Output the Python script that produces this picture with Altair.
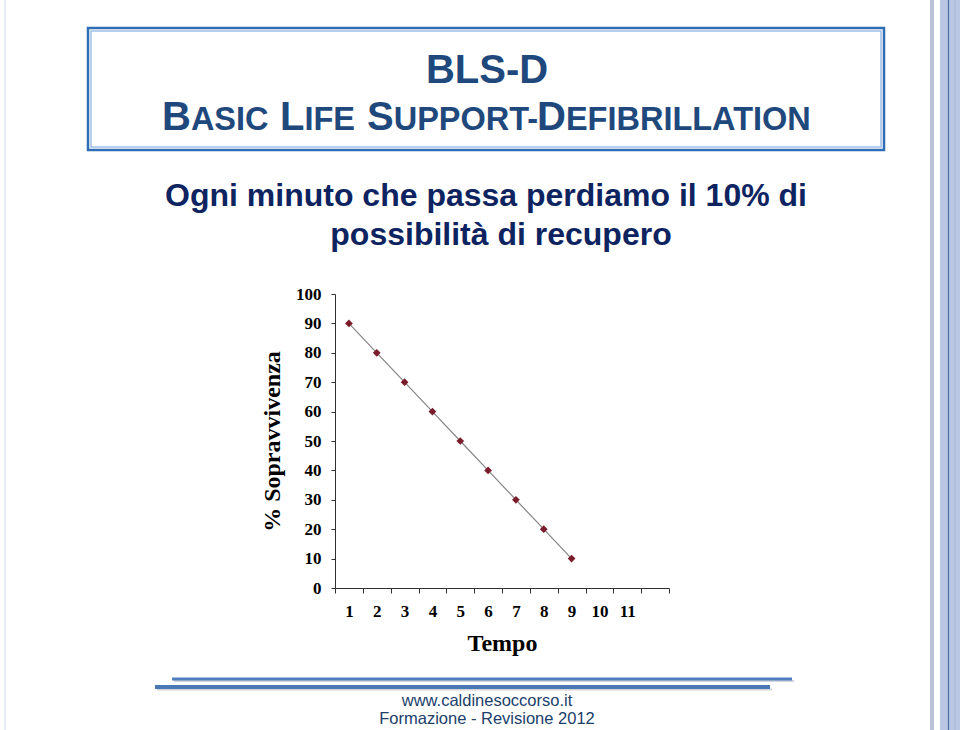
import altair as alt
import pandas as pd

# ---- chart values ----
minutes = ["1", "2", "3", "4", "5", "6", "7", "8", "9"]
survival = [90, 80, 70, 60, 50, 40, 30, 20, 10]
x_categories = ["1", "2", "3", "4", "5", "6", "7", "8", "9", "10", "11", ""]
y_ticks = [0, 10, 20, 30, 40, 50, 60, 70, 80, 90, 100]

title_main = "BLS-D"
title_words = [("B", "ASIC"), ("L", "IFE"), ("S", "UPPORT-"), ("D", "EFIBRILLATION")]
subtitle_lines = ["Ogni minuto che passa perdiamo il 10% di", "possibilità di recupero"]
footer_lines = ["www.caldinesoccorso.it", "Formazione - Revisione 2012"]

df = pd.DataFrame({"Tempo": minutes, "Sopravvivenza": survival})
one = pd.DataFrame({"k": [0]})

# ---- layout (page pixels) ----
X0, Y0 = 335, 294          # plot-area origin on the page
W, H = 334, 294            # plot-area size
FULL_W, FULL_H = 960, 730


def px(x):
    return x - X0


def py(y):
    return y - Y0


SANS = "Liberation Sans"
SERIF = "Liberation Serif"
TITLE_BLUE = "#1F497D"
SUB_BLUE = "#0E2461"

layers = []


def text(t, x, y, size, color, weight="bold", align="left", font=SANS, opacity=1.0):
    return alt.Chart(one).mark_text(
        text=t, font=font, fontSize=size, fontWeight=weight, color=color,
        align=align, baseline="alphabetic", opacity=opacity
    ).encode(x=alt.value(px(x)), y=alt.value(py(y)))


def rect(x1, x2, y1, y2, **kw):
    return alt.Chart(one).mark_rect(**kw).encode(
        x=alt.value(px(x1)), x2=alt.value(px(x2)),
        y=alt.value(py(y1)), y2=alt.value(py(y2)))


def hrule(x1, x2, y, color, width, opacity=1.0):
    return alt.Chart(one).mark_rule(color=color, strokeWidth=width, opacity=opacity).encode(
        x=alt.value(px(x1)), x2=alt.value(px(x2)), y=alt.value(py(y)))


def vrule(x, y1, y2, color, width, opacity=1.0):
    return alt.Chart(one).mark_rule(color=color, strokeWidth=width, opacity=opacity).encode(
        x=alt.value(px(x)), y=alt.value(py(y1)), y2=alt.value(py(y2)))


# right-hand decorative stripes
layers.append(rect(930, 934, 0, FULL_H, color="#b9c2d7"))
layers.append(rect(940, 960, 0, FULL_H, color="#bac7e2"))
layers.append(vrule(948.5, 0, FULL_H, "#4e6ea3", 1.2))
layers.append(vrule(955, 0, FULL_H, "#a7b7d8", 1))
layers.append(vrule(5, 0, FULL_H, "#dfe5ef", 1.5))

# title box
layers.append(rect(88, 884, 28, 150, fillOpacity=0, stroke="#2f6eb4", strokeWidth=2.5))
layers.append(rect(91, 881, 31, 147, fillOpacity=0, stroke="#9dc0e6", strokeWidth=1.5))

# title line 1
layers.append(text(title_main, 487, 83, 40, TITLE_BLUE, align="center"))

# title line 2 in small caps
BIG, SMALL = 40, 32.5
big_w = {"B": 0.722, "L": 0.611, "S": 0.667, "D": 0.722}
word_starts = [162, 280, 367, 537]
for (cap, rest), x in zip(title_words, word_starts):
    xr = x + big_w[cap] * BIG
    layers.append(text(cap, x, 130, BIG, TITLE_BLUE))
    layers.append(text(rest, xr, 130, SMALL, TITLE_BLUE))

# subtitle
layers.append(text(subtitle_lines[0], 486, 206, 32, SUB_BLUE, align="center"))
layers.append(text(subtitle_lines[1], 501, 245, 32, SUB_BLUE, align="center"))

# footer lines and text
layers.append(hrule(174, 794, 681, "#b0b8c4", 2, opacity=0.6))
layers.append(hrule(172, 792, 679, "#4f7fbf", 3))
layers.append(hrule(157, 772, 689.5, "#b0b8c4", 2, opacity=0.6))
layers.append(hrule(155, 770, 687, "#4a78b5", 4))
layers.append(text(footer_lines[0], 487, 706, 16.5, "#20406a", weight="normal", align="center"))
layers.append(text(footer_lines[1], 487, 724, 16.5, "#20406a", weight="normal", align="center"))

# ---- the data chart ----
x_enc = alt.X(
    "Tempo:O",
    scale=alt.Scale(type="band", domain=x_categories, paddingInner=0, paddingOuter=0),
    axis=alt.Axis(title="Tempo", labelAngle=0, tickBand="extent", tickSize=5,
                  labelPadding=10, titlePadding=12),
)
y_enc = alt.Y(
    "Sopravvivenza:Q",
    scale=alt.Scale(domain=[0, 100], nice=False, zero=True),
    axis=alt.Axis(values=y_ticks, title="% Sopravvivenza", tickSize=4,
                  labelPadding=10, titlePadding=11),
)

base = alt.Chart(df).encode(x=x_enc, y=y_enc)
line = base.mark_line(color="#858585", strokeWidth=1.2)
points = base.mark_point(shape="diamond", filled=True, size=60, color="#7b1c2c", opacity=1)

layers.extend([line, points])

chart = alt.layer(*layers).properties(
    width=W, height=H,
    padding={"left": X0, "top": Y0, "right": FULL_W - X0 - W, "bottom": FULL_H - Y0 - H},
    autosize=alt.AutoSizeParams(type="none"),
    background="white",
).configure_view(strokeWidth=0).configure_axis(
    grid=False,
    domainColor="#303030",
    tickColor="#303030",
    labelFont=SERIF, labelFontWeight="bold", labelFontSize=17, labelColor="black",
    titleFont=SERIF, titleFontWeight="bold", titleFontSize=24, titleColor="black",
)

chart.save("out.html", embed_options={"renderer": "svg", "actions": False})
